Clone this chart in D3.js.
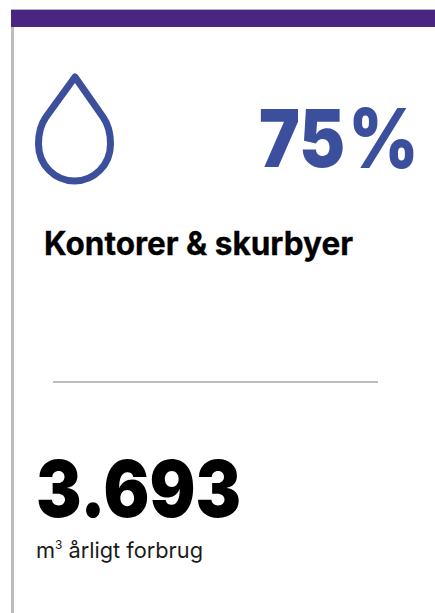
<!DOCTYPE html>
<html>
<head>
<meta charset="utf-8">
<script src="https://cdn.jsdelivr.net/npm/d3@7"></script>
<style>
html, body { margin: 0; padding: 0; background: #fff; }
svg { display: block; }
text { font-family: Inter, Roboto, sans-serif; }
</style>
</head>
<body>
<div id="chart"></div>
<script>
var share_values = [75];
var share_units  = ['%'];
var categories   = ['Kontorer & skurbyer'];
var usage_labels = ['3.693'];
var unit_labels  = ['m', '3', ' årligt forbrug'];

var chart_width  = 435;
var chart_height = 613;

var svg = d3.select('#chart')
	.append('svg')
	.attr('width', chart_width)
	.attr('height', chart_height);

// card frame
svg.append('rect').attr('x', 11).attr('y', 27).attr('width', 3).attr('height', 586).attr('fill', '#bdbdbd');
svg.append('rect').attr('x', 11).attr('y', 9).attr('width', 424).attr('height', 1).attr('fill', '#b5b0b5');
svg.append('rect').attr('x', 11).attr('y', 10).attr('width', 424).attr('height', 17).attr('fill', '#4b2680');

// water drop
var drop = d3.path();
drop.moveTo(75, 77);
drop.lineTo(103, 117);
drop.bezierCurveTo(108, 124, 110.5, 132, 110.5, 144);
drop.bezierCurveTo(110.5, 165, 94, 181, 74.5, 181);
drop.bezierCurveTo(55, 181, 38.5, 165, 38.5, 144);
drop.bezierCurveTo(38.5, 132, 41, 124, 46, 117);
drop.closePath();

svg.append('path')
	.attr('d', drop.toString())
	.attr('fill', '#fff')
	.attr('stroke', '#3b4f9c')
	.attr('stroke-width', 7)
	.attr('stroke-linejoin', 'round');

// share, number and percent sign have different weights
var share = svg.append('text')
	.attr('y', 166.5)
	.attr('font-size', 80)
	.attr('fill', '#3b4f9c');

share.append('tspan')
	.text(share_values[0])
	.attr('x', 259)
	.attr('font-weight', 900)
	.attr('textLength', 86)
	.attr('lengthAdjust', 'spacingAndGlyphs');

share.append('tspan')
	.text(share_units[0])
	.attr('x', 347.5)
	.attr('font-weight', 600)
	.attr('stroke', '#3b4f9c')
	.attr('stroke-width', 2)
	.attr('textLength', 72)
	.attr('lengthAdjust', 'spacingAndGlyphs');

// category
svg.selectAll('text.category')
	.data(categories)
	.enter()
	.append('text')
	.attr('class', 'category')
	.text(function(d){ return d; })
	.attr('x', 44)
	.attr('y', 255)
	.attr('font-size', 32)
	.attr('font-weight', 700)
	.attr('fill', '#000')
	.attr('stroke', '#000')
	.attr('stroke-width', 0.3)
	.attr('textLength', 309)
	.attr('lengthAdjust', 'spacingAndGlyphs');

// divider
svg.append('line')
	.attr('x1', 53).attr('x2', 378)
	.attr('y1', 382).attr('y2', 382)
	.attr('stroke', '#bdbdbd')
	.attr('stroke-width', 2);

// yearly usage
svg.selectAll('text.usage')
	.data(usage_labels)
	.enter()
	.append('text')
	.attr('class', 'usage')
	.text(function(d){ return d; })
	.attr('x', 36)
	.attr('y', 516.5)
	.attr('font-size', 79)
	.attr('font-weight', 900)
	.attr('fill', '#000')
	.attr('textLength', 205)
	.attr('lengthAdjust', 'spacingAndGlyphs');

// unit line
var unit = svg.append('text')
	.attr('x', 36)
	.attr('y', 558)
	.attr('font-size', 22)
	.attr('fill', '#1a1a1a')
	.attr('textLength', 167)
	.attr('lengthAdjust', 'spacingAndGlyphs')
	.attr('xml:space', 'preserve');
unit.append('tspan').text(unit_labels[0]);
unit.append('tspan').text(unit_labels[1]).attr('font-size', 12).attr('dy', -9);
unit.append('tspan').text(unit_labels[2]).attr('dy', 9);
</script>
</body>
</html>
